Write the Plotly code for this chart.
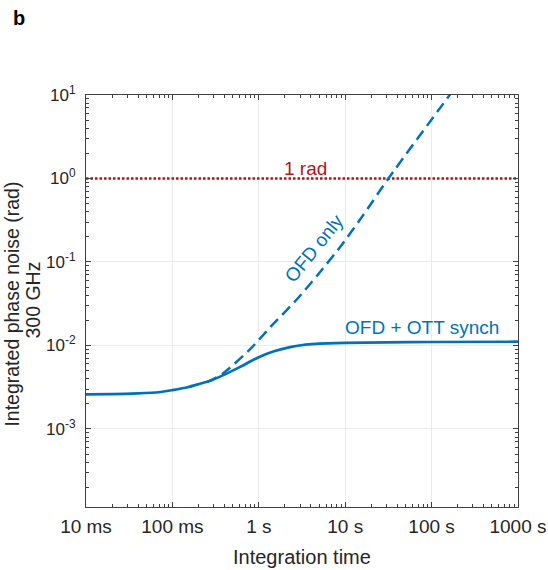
import plotly.graph_objects as go

# Integration time (s) and integrated phase noise (rad)
synch_t = [0.01, 0.02, 0.04, 0.07, 0.1, 0.15, 0.2, 0.28, 0.4, 0.6, 1, 1.5, 2.3, 3.5, 5, 10, 30, 100, 1000]
synch_phi = [2.60e-3, 2.61e-3, 2.66e-3, 2.75e-3, 2.92e-3, 3.16e-3, 3.43e-3, 3.80e-3, 4.47e-3, 5.50e-3,
             7.24e-3, 8.51e-3, 9.55e-3, 1.023e-2, 1.052e-2, 1.072e-2, 1.089e-2, 1.10e-2, 1.109e-2]

ofd_t = [0.25, 0.38, 0.8, 1.36, 2.75, 4.7, 9.2, 16, 31.6, 164, 200]
ofd_phi = [3.63e-3, 4.57e-3, 9.1e-3, 1.66e-2, 3.55e-2, 6.8e-2, 0.162, 0.359, 1.0, 10.2, 13.5]

limit_t = [0.01, 1000]
limit_phi = [1, 1]

x_tickvals = [0.01, 0.1, 1, 10, 100, 1000]
x_ticktext = ["10 ms", "100 ms", "1 s", "10 s", "100 s", "1000 s"]
y_tickvals = [1e-3, 1e-2, 1e-1, 1e0, 1e1]
y_ticktext = ["10<sup>-3</sup>", "10<sup>-2</sup>", "10<sup>-1</sup>", "10<sup>0</sup>", "10<sup>1</sup>"]

blue = "#0072BD"
red = "#B5121B"
axc = "#404040"
txt = "#262626"
font = "Liberation Sans, Arial, sans-serif"

W, H = 548, 570
L, R, T, B = 85.5, 30, 95, 63
pw, ph = W - L - R, H - T - B


def sx(x):
    """screen x pixel -> paper coordinate"""
    return (x - L) / pw


def sy(y):
    """screen y pixel -> paper coordinate"""
    return 1 - (y - T) / ph


x_minor = [m * 10 ** e for e in range(-2, 3) for m in range(2, 10)]
y_minor = [m * 10 ** e for e in range(-4, 1) for m in range(2, 10)]

fig = go.Figure()
fig.add_trace(go.Scatter(x=limit_t, y=limit_phi, mode="lines",
                         line=dict(color=red, width=2.5, dash="2.5px,2px"), showlegend=False))
fig.add_trace(go.Scatter(x=ofd_t, y=ofd_phi, mode="lines",
                         line=dict(color=blue, width=2.5, dash="11px,6px", shape="spline", smoothing=0.6),
                         showlegend=False))
fig.add_trace(go.Scatter(x=synch_t, y=synch_phi, mode="lines",
                         line=dict(color=blue, width=2.7, shape="spline", smoothing=0.6), showlegend=False))

fig.update_xaxes(type="log", range=[-2, 3], tickmode="array", tickvals=x_tickvals, ticktext=x_ticktext,
                 ticks="inside", ticklen=5, tickcolor=axc, showline=True, linecolor=axc, linewidth=1,
                 mirror="allticks", showgrid=True, gridcolor="#EBEBEB", gridwidth=1, zeroline=False,
                 minor=dict(tickmode="array", tickvals=x_minor, ticks="inside", ticklen=3,
                            tickcolor=axc, showgrid=False),
                 tickfont=dict(family=font, size=19, color=txt), automargin=False, ticklabelstandoff=2)
fig.update_yaxes(type="log", range=[-3.935, 1.0], tickmode="array", tickvals=y_tickvals, ticktext=y_ticktext,
                 ticks="inside", ticklen=5, tickcolor=axc, showline=True, linecolor=axc, linewidth=1,
                 mirror="allticks", showgrid=True, gridcolor="#EBEBEB", gridwidth=1, zeroline=False,
                 minor=dict(tickmode="array", tickvals=y_minor, ticks="inside", ticklen=3,
                            tickcolor=axc, showgrid=False),
                 tickfont=dict(family=font, size=17, color=txt), automargin=False, ticklabelstandoff=6)

# axis titles
fig.add_annotation(x=sx(302), y=sy(557), xref="paper", yref="paper", text="Integration time",
                   showarrow=False, xanchor="center", yanchor="middle",
                   font=dict(family=font, size=20, color=txt))
fig.add_annotation(x=sx(11), y=sy(304), xref="paper", yref="paper", text="Integrated phase noise (rad)",
                   showarrow=False, textangle=-90, xanchor="center", yanchor="middle",
                   font=dict(family=font, size=19.5, color=txt))
fig.add_annotation(x=sx(32), y=sy(300), xref="paper", yref="paper", text="300 GHz",
                   showarrow=False, textangle=-90, xanchor="center", yanchor="middle",
                   font=dict(family=font, size=19.5, color=txt))

# in-plot labels (log10 data coordinates)
fig.add_annotation(x=0.54, y=0.0, xref="x", yref="y", text="1 rad", showarrow=False,
                   yshift=10, font=dict(family=font, size=19, color=red))
fig.add_annotation(x=0.64, y=-0.84, xref="x", yref="y", text="OFD only", showarrow=False,
                   textangle=-51, font=dict(family=font, size=19, color=blue))
fig.add_annotation(x=1.89, y=-1.955, xref="x", yref="y", text="OFD + OTT synch", showarrow=False,
                   yshift=14, font=dict(family=font, size=19, color=blue))

# panel letter
fig.add_annotation(x=sx(18), y=sy(18), xref="paper", yref="paper", text="<b>b</b>", showarrow=False,
                   xanchor="center", yanchor="middle", font=dict(family=font, size=20, color="black"))

fig.update_layout(width=W, height=H, margin=dict(l=L, r=R, t=T, b=B, autoexpand=False),
                  paper_bgcolor="white", plot_bgcolor="white", showlegend=False)

fig.write_html("out.html", config={"displayModeBar": False},
               post_script="document.body.style.margin='0px';")
